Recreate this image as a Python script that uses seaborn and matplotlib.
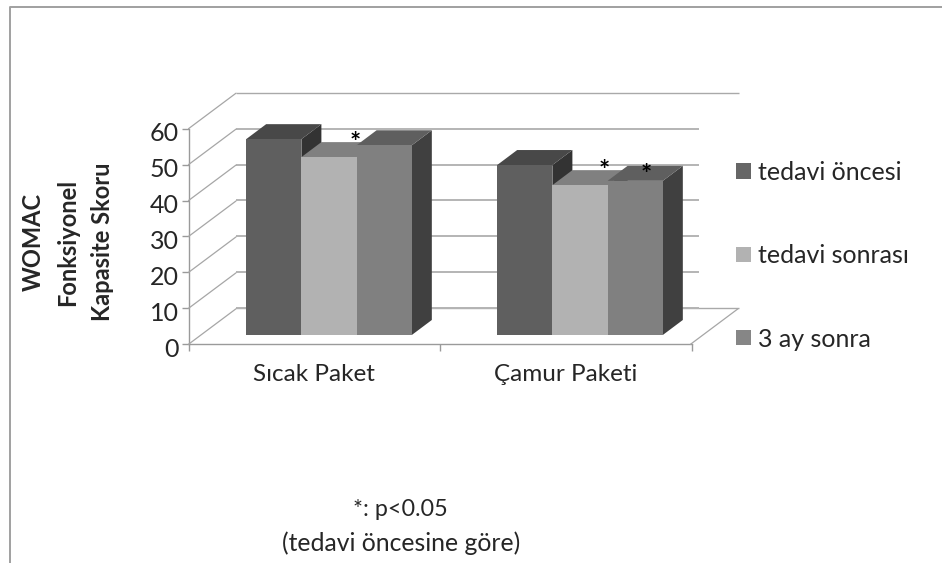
# WOMAC chart, 3D look bars built on top of a seaborn barplot

import pandas as pd
import seaborn as sns
import matplotlib.pyplot as plt
from matplotlib.patches import Polygon, Patch
from matplotlib.lines import Line2D
from matplotlib.transforms import ScaledTranslation

# Data
groups = ["Sıcak Paket", "Çamur Paketi"]
periods = ["tedavi öncesi", "tedavi sonrası", "3 ay sonra"]
before = [54.5, 47.3]
after = [49.5, 41.7]
later = [52.8, 42.9]
y_ticks = [0, 10, 20, 30, 40, 50, 60]

df = pd.DataFrame({
    "grup": groups * 3,
    "zaman": [periods[0]] * 2 + [periods[1]] * 2 + [periods[2]] * 2,
    "skor": before + after + later,
})

front_colors = ["#5f5f5f", "#b2b2b2", "#808080"]
top_colors = ["#484848", "#808080", "#5f5f5f"]
side_colors = ["#333333", "#5a5a5a", "#404040"]
legend_colors = ["#666666", "#b2b2b2", "#868686"]

W, H = 942, 563
sns.set_style("white")
plt.rcParams["font.family"] = ["Lato", "DejaVu Sans"]


def box(left, top, width, height):
    # axes position from pixels of the picture
    return [left / W, 1 - (top + height) / H, width / W, height / H]


fig = plt.figure(figsize=(W / 100, H / 100), dpi=100)

# Outer frame
fig.add_artist(Line2D([9.5 / W, 9.5 / W, 1], [0, 1 - 7 / H, 1 - 7 / H], color="#a0a0a0", lw=1.4))

# Plane of the bars, 251 px per category, 3.593 px per score unit
px_x = 251
px_y = 3.593
ax = fig.add_axes(box(203.5, 119.4, 2 * px_x, 60 * px_y))
ax_back = fig.add_axes(box(236, 92.7, 503, 60 * px_y), zorder=-1)
ax_front = fig.add_axes(box(188.5, 128.7, 503.5, 60 * px_y), zorder=-1)

# Back wall
ax_back.set_xlim(0, 1)
ax_back.set_ylim(0, 60)
ax_back.axis("off")
ax_back.hlines([0, 60], 0, 1, color="#a9a9a9", lw=1.0, clip_on=False)
ax_back.hlines(y_ticks[:-1], 0, 0.92, color="#b4b4b4", lw=1.4, clip_on=False)

# Front axis with ticks
ax_front.set_xlim(-0.5, 1.5)
ax_front.set_ylim(0, 60)
ax_front.patch.set_visible(False)
sns.despine(ax=ax_front, top=True, right=True)
for s in ["left", "bottom"]:
    ax_front.spines[s].set_color("#9a9a9a")
    ax_front.spines[s].set_linewidth(1.0)
ax_front.set_yticks(y_ticks)
ax_front.set_xticks([-0.5, 0.5, 1.5])
ax_front.set_xticklabels([])
ax_front.set_xticks([0, 1], labels=groups, minor=True)
ax_front.tick_params(axis="both", which="major", length=5, color="#9a9a9a", width=1.0,
                     bottom=True, left=True)
ax_front.tick_params(axis="x", which="minor", length=0, pad=14, labelsize=17.5)
ax_front.tick_params(axis="y", labelsize=18, pad=2, labelcolor="#262626")
# numbers sit a little under their ticks
down = ScaledTranslation(0, -3 / 100, fig.dpi_scale_trans)
for label in ax_front.get_yticklabels():
    label.set_transform(label.get_transform() + down)

# Bars
sns.barplot(data=df, x="grup", y="skor", hue="zaman", palette=front_colors, hue_order=periods,
            order=groups, width=0.66, gap=0, saturation=1, legend=False, ax=ax)
ax.set_xlim(-0.5, 1.5)
ax.set_ylim(0, 60)
ax.axis("off")

depth_x = 20 / px_x
depth_y = 15 / px_y
for i, bar in enumerate(ax.patches):
    c = i // 2
    x0 = bar.get_x()
    x1 = x0 + bar.get_width()
    h = bar.get_height()
    z = 3 + c
    bar.set_zorder(z + 0.2)
    bar.set_linewidth(0)
    ax.add_patch(Polygon([(x1, 0), (x1 + depth_x, depth_y), (x1 + depth_x, h + depth_y), (x1, h)],
                         fc=side_colors[c], lw=0, zorder=z))
    ax.add_patch(Polygon([(x0, h), (x0 + depth_x, h + depth_y), (x1 + depth_x, h + depth_y), (x1, h)],
                         fc=top_colors[c], lw=0, zorder=z + 0.1))

# Side wall and floor edges, going from the front axis to the back wall
to_front_x = -15 / px_x
to_front_y = -9.3 / px_y
to_back_x = 32.5 / px_x
to_back_y = 26.2 / px_y
for t in y_ticks:
    ax.plot([-0.5 + to_front_x, -0.5 + to_back_x], [t + to_front_y, t + to_back_y],
            color="#a6a6a6", lw=0.9, clip_on=False, zorder=1)
ax.plot([1.5 + to_front_x, 1.5 + to_back_x], [to_front_y, to_back_y],
        color="#a6a6a6", lw=0.9, clip_on=False, zorder=1)

# Significance marks
star_x = [0.105, 1.095, 1.265]
star_y = [50.0, 42.3, 41.3]
for sx, sy in zip(star_x, star_y):
    ax.text(sx, sy, "*", ha="center", va="bottom", fontsize=19, fontweight="bold", color="black",
            zorder=20)

# Legend
handles = [Patch(fc=c, lw=0, label=p) for c, p in zip(legend_colors, periods)]
fig.legend(handles=handles, loc="upper left", bbox_to_anchor=(736 / W, 1 - 161 / H), frameon=False,
           fontsize=18, handlelength=0.58, handleheight=0.58, handletextpad=0.32, labelspacing=2.41,
           borderpad=0, borderaxespad=0)

# Y title, three lines
fig.text(68 / W, 1 - 242 / H, "WOMAC\nFonksiyonel\nKapasite Skoru", rotation=90, ha="center", va="center",
         ma="center", fontsize=17, fontweight="bold", linespacing=1.62)

# Note at the bottom
fig.text(400.5 / W, 1 - 509 / H, "*: p<0.05", ha="center", va="center", fontsize=16.8)
fig.text(401 / W, 1 - 543 / H, "(tedavi öncesine göre)", ha="center", va="center", fontsize=17.8)

plt.savefig("out.png", dpi=100)
